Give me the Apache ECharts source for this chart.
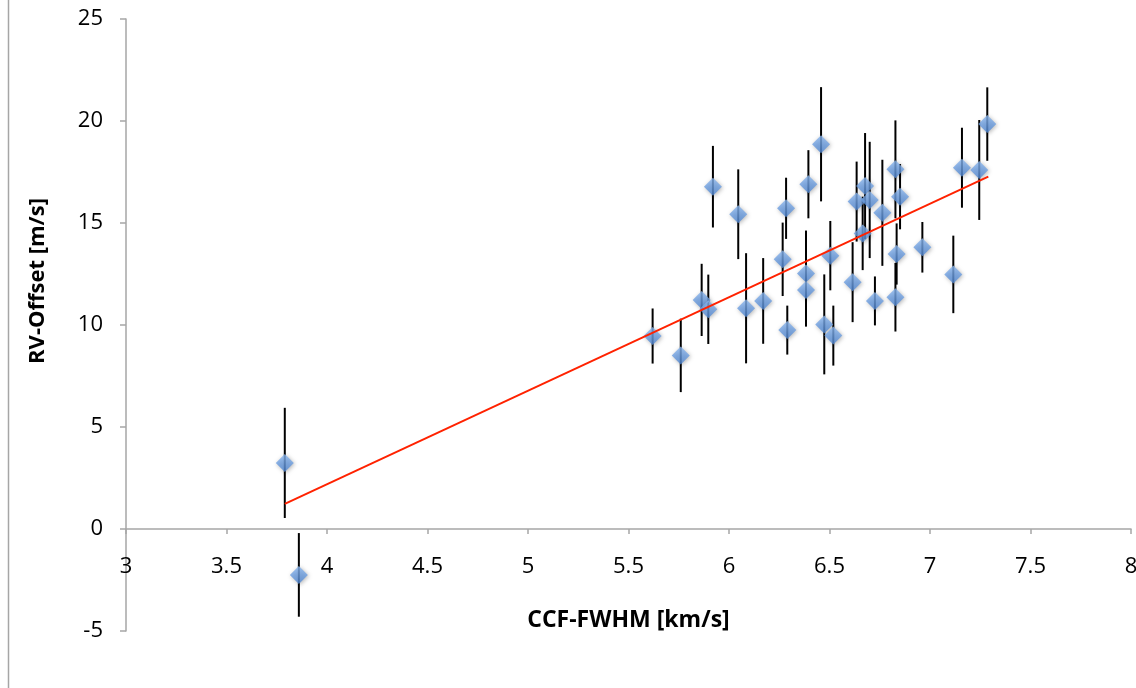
<!DOCTYPE html>
<html>
<head>
<meta charset="utf-8">
<script src="https://cdn.jsdelivr.net/npm/echarts@6/dist/echarts.min.js"></script>
<style>
html,body{margin:0;padding:0;background:#fff;}
#chart{width:1136px;height:688px;}
</style>
</head>
<body>
<div id="chart"></div>
<script>
// CCF-FWHM [km/s]
const xVals = [3.79, 3.86, 5.62, 5.76, 5.864, 5.897, 5.92, 6.046, 6.085, 6.17,
               6.284, 6.267, 6.29, 6.395, 6.458, 6.383, 6.383, 6.504, 6.474, 6.519,
               6.615, 6.635, 6.677, 6.70, 6.665, 6.763, 6.828, 6.851, 6.834, 6.726,
               6.828, 6.962, 7.116, 7.159, 7.245, 7.285];
// RV-Offset [m/s]
const yVals = [3.24, -2.25, 9.46, 8.51, 11.23, 10.77, 16.78, 15.43, 10.82, 11.18,
               15.72, 13.22, 9.75, 16.9, 18.86, 12.53, 11.72, 13.4, 10.03, 9.48,
               12.1, 16.05, 16.81, 16.13, 14.49, 15.5, 17.63, 16.29, 13.48, 11.18,
               11.36, 13.81, 12.48, 17.71, 17.6, 19.85];
// symmetric error (+/-) [m/s]
const yErr = [2.7, 2.05, 1.35, 1.8, 1.77, 1.7, 2.0, 2.2, 2.7, 2.1,
              1.5, 1.8, 1.2, 1.67, 2.8, 2.1, 1.8, 1.7, 2.45, 1.47,
              1.96, 1.96, 2.6, 2.85, 1.8, 2.6, 2.4, 1.6, 1.5, 1.2,
              1.68, 1.24, 1.9, 1.96, 2.45, 1.8];
// linear trendline end points
const trendX = [3.79, 7.29];
const trendY = [1.23, 17.27];

const xTicks = {min: 3, max: 8, interval: 0.5};
const yTicks = {min: -5, max: 25, interval: 5};

const pts = xVals.map((x, i) => [x, yVals[i]]);
const errData = xVals.map((x, i) => [x, yVals[i] - yErr[i], yVals[i] + yErr[i]]);
const trendData = trendX.map((x, i) => [x, trendY[i]]);

const FONT = 'Open Sans';
const axisGray = '#a6a6a6';

const GRID = {left: 126, right: 5, top: 19, bottom: 57};
const plotH = 688 - GRID.top - GRID.bottom;
// x axis crosses the y axis at value 0: shift it up from the grid bottom
const xAxisShift = -plotH * (0 - yTicks.min) / (yTicks.max - yTicks.min);

const chart = echarts.init(document.getElementById('chart'), null, {renderer: 'canvas'});
chart.setOption({
  animation: false,
  backgroundColor: '#fff',
  textStyle: {fontFamily: FONT},
  grid: Object.assign({containLabel: false, outerBoundsMode: 'none'}, GRID),
  xAxis: {
    type: 'value', min: xTicks.min, max: xTicks.max, interval: xTicks.interval,
    offset: xAxisShift,
    name: 'CCF-FWHM [km/s]', nameLocation: 'middle', nameGap: 80,
    nameTextStyle: {fontFamily: FONT, fontSize: 23, fontWeight: 'bold', color: '#000'},
    axisLine: {onZero: false, lineStyle: {color: axisGray, width: 1.5}},
    axisTick: {show: true, inside: false, length: 5, lineStyle: {color: axisGray, width: 1.5}},
    axisLabel: {fontFamily: FONT, fontSize: 22, color: '#000', margin: 27},
    splitLine: {show: false}
  },
  yAxis: {
    type: 'value', min: yTicks.min, max: yTicks.max, interval: yTicks.interval,
    name: 'RV-Offset [m/s]', nameLocation: 'middle', nameGap: 77,
    nameTextStyle: {fontFamily: FONT, fontSize: 22, fontWeight: 'bold', color: '#000',
                    padding: [0, 0, 0, 88]},
    axisLine: {show: true, onZero: false, lineStyle: {color: axisGray, width: 1.5}},
    axisTick: {show: true, inside: false, length: 6, lineStyle: {color: axisGray, width: 1.5}},
    axisLabel: {fontFamily: FONT, fontSize: 22, color: '#000', margin: 23},
    splitLine: {show: false}
  },
  graphic: [{
    type: 'line', shape: {x1: 8.5, y1: 0, x2: 8.5, y2: 688},
    style: {stroke: axisGray, lineWidth: 1.5}, silent: true
  }],
  series: [
    {
      type: 'custom',
      data: errData,
      z: 2,
      renderItem: function (params, api) {
        const x = api.value(0);
        const lo = api.coord([x, api.value(1)]);
        const hi = api.coord([x, api.value(2)]);
        return {
          type: 'line',
          shape: {x1: lo[0], y1: lo[1], x2: hi[0], y2: hi[1]},
          style: {stroke: '#000', lineWidth: 2}
        };
      },
      encode: {x: 0, y: [1, 2]}
    },
    {
      type: 'scatter',
      data: pts,
      z: 3,
      symbol: 'diamond',
      symbolSize: 18,
      itemStyle: {
        color: new echarts.graphic.LinearGradient(0, 0, 0, 1, [
          {offset: 0, color: '#8cb8f0'},
          {offset: 1, color: '#4f86d2'}
        ]),
        shadowColor: 'rgba(0,0,0,0.35)', shadowBlur: 4, shadowOffsetX: 1, shadowOffsetY: 1
      }
    },
    {
      type: 'line',
      data: trendData,
      z: 4,
      showSymbol: false,
      symbol: 'none',
      lineStyle: {color: '#ff2200', width: 2}
    }
  ]
});
</script>
</body>
</html>
